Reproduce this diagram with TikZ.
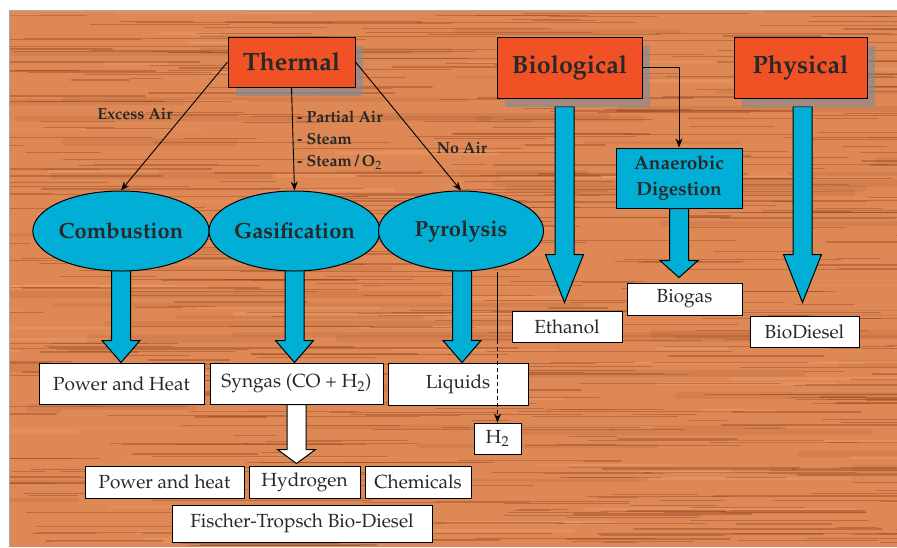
\documentclass[tikz,border=0pt]{standalone}
\usepackage[T1]{fontenc}
\usepackage{mathpazo}
\usetikzlibrary{arrows.meta, shapes.geometric, shadows, calc, positioning}

\definecolor{woodbase}{RGB}{222,136,86}
\definecolor{wooddark}{RGB}{140,64,28}
\definecolor{woodlight}{RGB}{240,162,114}
\definecolor{methodred}{RGB}{240,82,38}
\definecolor{procblue}{RGB}{0,174,214}
\definecolor{shadowgray}{RGB}{128,138,152}
\definecolor{inkgray}{RGB}{40,40,40}

\pgfdeclarelayer{wood}
\pgfdeclarelayer{links}
\pgfsetlayers{wood,links,main}

\tikzset{
  method/.style={draw, fill=methodred, line width=1pt, text=inkgray, inner sep=0pt,
    font=\fontsize{25}{30}\selectfont\bfseries,
    drop shadow={shadow xshift=8pt, shadow yshift=-9pt, fill=shadowgray, opacity=0.6}},
  process/.style={ellipse, draw, fill=procblue, line width=1pt, text=inkgray, inner sep=0pt,
    minimum width=165pt, minimum height=80pt, font=\fontsize{22}{26}\selectfont\bfseries},
  product/.style={draw, fill=white, line width=1pt, text=inkgray, inner sep=0pt,
    font=\fontsize{19}{22}\selectfont},
  route/.style={text=inkgray, inner sep=0pt, font=\fontsize{16}{22}\selectfont\bfseries},
  feed/.style={-{Stealth[length=9pt,width=7pt]}, line width=0.9pt}
}

\newcommand\fatarrow[4][procblue]{%
  \draw[fill=#1, line width=1pt] let \p1=(#2), \p2=(#3) in
    ({\x1-9.5pt},\y1) -- ({\x1+9.5pt},\y1) -- ({\x1+9.5pt},{\y2+#4}) -- ({\x1+19pt},{\y2+#4})
    -- (\x1,\y2) -- ({\x1-19pt},{\y2+#4}) -- ({\x1-9.5pt},{\y2+#4}) -- cycle;}

\begin{document}
\begin{tikzpicture}[x=1pt, y=-1pt]
\useasboundingbox (0,0) rectangle (897,547);

\begin{pgfonlayer}{wood}
  \fill[white] (0,0) rectangle (897,547);
  \fill[woodbase] (9,10) rectangle (897,547);
  \begin{scope}
    \clip (9,10) rectangle (897,547);
    \pgfmathsetseed{11}
    \foreach \k in {1,...,50}{
      \pgfmathsetmacro\sy{10+537*rnd}
      \pgfmathsetmacro\sx{-150+1047*rnd}
      \pgfmathsetmacro\sl{150+400*rnd}
      \pgfmathsetmacro\sw{3+6*rnd}
      \draw[wooddark, line width=\sw pt, opacity=0.12, line cap=round] (\sx,\sy) -- ++(\sl,0);
    }
    \foreach \k in {1,...,80}{
      \pgfmathsetmacro\sy{10+537*rnd}
      \pgfmathsetmacro\sx{-100+997*rnd}
      \pgfmathsetmacro\sl{60+240*rnd}
      \pgfmathsetmacro\sw{1+3*rnd}
      \draw[woodlight, line width=\sw pt, opacity=0.35, line cap=round] (\sx,\sy) -- ++(\sl,0);
    }
    \foreach \k in {1,...,520}{
      \pgfmathsetmacro\sy{10+537*rnd}
      \pgfmathsetmacro\sx{-100+997*rnd}
      \pgfmathsetmacro\sl{30+220*rnd}
      \pgfmathsetmacro\sw{0.5+1.2*rnd}
      \draw[wooddark, line width=\sw pt, opacity=0.38, line cap=round] (\sx,\sy) -- ++(\sl,0);
    }
  \end{scope}
  \draw[gray!70, line width=1pt] (9,547) -- (9,10) -- (897,10);
\end{pgfonlayer}

\node[method, minimum width=127pt, minimum height=50pt] (thermal) at (291.5,62) {Thermal};
\node[method, minimum width=145pt, minimum height=61pt] (bio) at (569.5,67.5) {Biological};
\node[method, minimum width=133pt, minimum height=61pt] (phys) at (800.5,67.5) {Physical};

\node[draw, fill=procblue, line width=1pt, text=inkgray, inner sep=0pt, align=center,
  minimum width=126pt, minimum height=60pt, font=\fontsize{19}{26}\selectfont\bfseries]
  (anaer) at (679,178) {Anaerobic\\Digestion};

\node[process] (comb) at (121,231) {Combustion};
\node[process] (gasif) at (294.5,231) {Gasification};
\node[process] (pyro) at (461,231) {Pyrolysis};

\node[product, minimum width=165pt, minimum height=41pt] (power) at (121.5,383.5) {Power and Heat};
\node[product, minimum width=173pt, minimum height=41pt] (syngas) at (296.5,383.5) {Syngas (CO + H$_2$)};
\node[product, minimum width=140pt, minimum height=42pt] (liquids) at (458,384) {Liquids};
\node[product, minimum width=47pt, minimum height=31pt] (htwo) at (497.5,438.5) {H$_2$};
\node[product, minimum width=110pt, minimum height=31pt] (ethanol) at (567,326.5) {Ethanol};
\node[product, minimum width=115pt, minimum height=32pt] (biogas) at (684.5,299) {Biogas};
\node[product, minimum width=109pt, minimum height=31pt] (biodiesel) at (804.5,331.5) {BioDiesel};
\node[product, minimum width=159pt, minimum height=32pt] (powerheat) at (164.5,482) {Power and heat};
\node[product, minimum width=111pt, minimum height=32pt] (hydrogen) at (304.5,482) {Hydrogen};
\node[product, minimum width=106pt, minimum height=32pt] (chemicals) at (418,482) {Chemicals};
\node[product, minimum width=260pt, minimum height=37pt] (fischer) at (302,523.5) {Fischer-Tropsch Bio-Diesel};

\node[route] (excess) at (135,114) {Excess Air};
\node[route, anchor=west, align=left] (partial) at (297,140) {- Partial Air\\- Steam\\- Steam\,/\,O$_2$};
\node[route] (noair) at (462,148) {No Air};

\draw
  (thermal.west) edge[feed] (comb.north)
  (thermal.south) edge[feed] (gasif.north)
  (thermal.east) edge[feed] (pyro.north);
\draw[feed] (bio.east) -| (anaer.north);

\coordinate (dashstart) at (497.5,340);
\draw[line width=0.9pt] (pyro.south -| htwo.north) -- (dashstart);
\draw[feed, dash pattern=on 4pt off 3pt] (dashstart) -- (htwo.north);

\begin{pgfonlayer}{links}
  \fatarrow{$(comb.south)+(0,-6)$}{power.north}{22pt}
  \fatarrow{$(gasif.south)+(0,-6)$}{syngas.north}{22pt}
  \fatarrow{$(pyro.south)+(1,-6)$}{liquids.north}{22pt}
  \fatarrow{$(bio.south)+(-5,8)$}{$(ethanol.north)+(0,-8)$}{48pt}
  \fatarrow{$(phys.south)+(2,8)$}{$(biodiesel.north)+(0,-13)$}{48pt}
  \fatarrow{anaer.south}{$(biogas.north)+(0,-5)$}{17pt}
  \fatarrow[white]{syngas.south}{$(hydrogen.north)+(0,-2)$}{14pt}
\end{pgfonlayer}
\end{tikzpicture}
\end{document}
